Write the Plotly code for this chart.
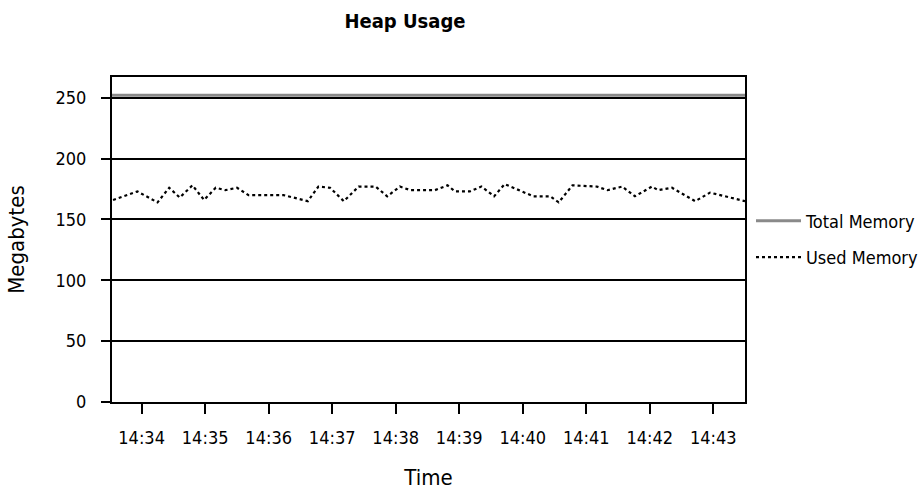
import plotly.graph_objects as go

DAY = "2024-01-01 "
used_times = ["14:33:33", "14:33:56", "14:34:15", "14:34:26", "14:34:36", "14:34:48", "14:34:59",
              "14:35:10", "14:35:19", "14:35:30", "14:35:41", "14:36:14", "14:36:37", "14:36:47",
              "14:36:58", "14:37:11", "14:37:25", "14:37:41", "14:37:52", "14:38:04", "14:38:14",
              "14:38:37", "14:38:49", "14:38:56", "14:39:10", "14:39:21", "14:39:33", "14:39:43",
              "14:40:10", "14:40:26", "14:40:34", "14:40:47", "14:41:10", "14:41:20", "14:41:34",
              "14:41:46", "14:42:02", "14:42:08", "14:42:21", "14:42:43", "14:42:57", "14:43:30"]
used_mb = [166, 173, 164, 176, 168, 178, 166,
           176, 174, 176, 170, 170, 165, 177,
           176, 165, 177, 177, 169, 177, 174,
           174, 178, 173, 173, 177, 169, 179,
           169, 169, 164, 178, 177, 174, 177,
           169, 177, 174, 176, 165, 172, 165]
total_times = ["14:33:32", "14:43:30"]
total_mb = [252, 252]
x_range = ["14:33:32", "14:43:30"]
y_range = [0, 267]
y_ticks = [0, 50, 100, 150, 200, 250]

FONT = "DejaVu Sans Condensed, DejaVu Sans, Liberation Sans, sans-serif"

fig = go.Figure()
fig.add_trace(go.Scatter(
    x=[DAY + t for t in total_times], y=total_mb, mode="lines", name="Total Memory",
    line=dict(color="#8a8a8a", width=3), legendgroup="a"))
fig.add_trace(go.Scatter(
    x=[DAY + t for t in used_times], y=used_mb, mode="lines", name="Used Memory",
    line=dict(color="black", width=2.2, dash="dot"), legendgroup="b"))

fig.update_layout(
    width=919, height=490,
    margin=dict(l=112, r=174, t=77, b=88, autoexpand=False),
    paper_bgcolor="white", plot_bgcolor="white",
    font=dict(family=FONT, size=18, color="black"),
    title=dict(text="<b>Heap Usage</b>", x=405 / 919, xanchor="center", xref="container",
               y=1 - 21 / 490, yanchor="middle", yref="container",
               font=dict(family=FONT, size=20, color="black")),
    legend=dict(x=(751 - 112) / 633, xanchor="left", y=1 - (239 - 77) / 325, yanchor="middle",
                font=dict(size=18),
                tracegroupgap=10, itemwidth=45, bgcolor="rgba(0,0,0,0)"),
    showlegend=True,
)
fig.update_xaxes(
    range=[DAY + x_range[0], DAY + x_range[1]], type="date",
    tick0=DAY + "14:34:00", dtick=60000, tickformat="%H:%M",
    ticks="outside", ticklen=10, tickwidth=2, tickcolor="black",
    showline=True, linecolor="black", linewidth=2, mirror=True,
    showgrid=False, zeroline=False, automargin=False,
    title=dict(text="Time", standoff=28),
    ticklabelstandoff=8,
)
fig.update_yaxes(
    range=y_range, tickvals=y_ticks,
    ticks="outside", ticklen=9, tickwidth=2, tickcolor="black",
    showline=True, linecolor="black", linewidth=2, mirror=True,
    showgrid=True, gridcolor="black", gridwidth=2, zeroline=False, automargin=False,
    title=dict(text="Megabytes", standoff=25),
    ticklabelstandoff=11,
)
fig.write_html("out.html", config={"displayModeBar": False},
               post_script="document.body.style.margin='0px';")
